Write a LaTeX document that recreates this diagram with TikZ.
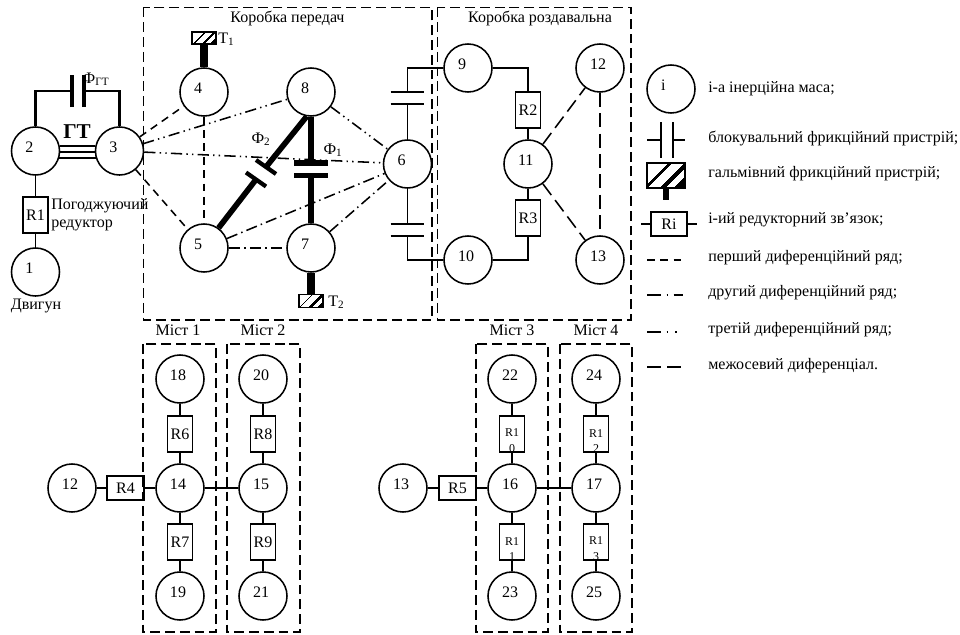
\documentclass[tikz,border=0pt]{standalone}
\usepackage{fontspec}
\setmainfont{Liberation Serif}
\usetikzlibrary{calc}

\pgfdeclarehorizontalshading{brakestripes}{100bp}{
    color(25bp)=(black); color(30bp)=(black); color(40bp)=(white);
    color(43bp)=(white); color(50bp)=(black); color(57bp)=(white);
    color(60bp)=(white); color(70bp)=(black); color(75bp)=(black)}

\tikzset{
    mass/.style={circle, draw, line width=1.1pt, minimum size=1.2cm, inner sep=0pt,
        text width=0.5cm, align=left, text height=0.19cm, text depth=0.11cm},
    gearbox/.style={rectangle, draw, fill=white, line width=1pt, minimum width=0.62cm,
        minimum height=0.9cm, inner sep=0pt},
    gearboxflat/.style={gearbox, minimum width=0.92cm, minimum height=0.6cm},
    gearboxcut/.style 2 args={gearbox, path picture={
        \node[align=center, inner sep=0pt, font=\fontsize{8.5}{11}\selectfont]
            (#1) at ([yshift=-0.17cm]path picture bounding box.center) {#2};}},
    brake/.style={rectangle, draw, line width=1.2pt, inner sep=0pt, shade, shading=brakestripes,
        shading angle=-45},
    unit/.style={draw, line width=1.2pt, dash pattern=on 7pt off 3.5pt},
    link/.style={line width=1pt},
    clutchplate/.style={line width=1pt},
    heavy/.style={line width=1.9pt},
    firstrow/.style={line width=1.1pt, dash pattern=on 5.5pt off 4pt},
    secondrow/.style={line width=1.1pt, dash pattern=on 8pt off 3pt on 1pt off 3pt},
    thirdrow/.style={line width=1.1pt, dash pattern=on 8pt off 3pt on 1pt off 3pt on 1pt off 3pt},
    axlerow/.style={line width=1.1pt, dash pattern=on 10pt off 4.5pt},
    legendtext/.style={anchor=west, inner sep=0pt},
    plain/.style={inner sep=0pt},
}

\begin{document}
\begin{tikzpicture}[x=0.025cm, y=-0.025cm, font=\fontsize{11.4}{13}\selectfont]

    \useasboundingbox (0,0) rectangle (960,635);

    % ============================================================
    % GROUP FRAMES
    % ============================================================
    \draw[unit] (143.5,7.5) rectangle (432,320);
    \draw[unit] (437.5,7.5) rectangle (631,320);
    \draw[unit] (143,344) rectangle (216,632);
    \draw[unit] (227,344) rectangle (300,632);
    \draw[unit] (476,344) rectangle (548,632);
    \draw[unit] (560,344) rectangle (632,632);

    \node[plain] (boxname) at (287.5,18) {Коробка передач};
    \node[plain] (transfername) at (540,18) {Коробка роздавальна};
    \node[plain] (axle1) at (178,330) {Міст 1};
    \node[plain] (axle2) at (263,330) {Міст 2};
    \node[plain] (axle3) at (512,330) {Міст 3};
    \node[plain] (axle4) at (596,330) {Міст 4};

    % ============================================================
    % ENGINE AND TORQUE CONVERTER
    % ============================================================
    \node[mass] (n1) at (35.5,272) {1};
    \node[mass] (n2) at (35.5,151) {2};
    \node[mass] (n3) at (119.5,151) {3};
    \node[gearbox] (r1) at (35.5,215) {R1};

    \draw[link] (n2) -- (r1);
    \draw[link] (r1) -- (n1);

    \draw[line width=1.4pt] (n2.12) -- (n3.168);
    \draw[line width=1.4pt] (n2.-2) -- (n3.-178);
    \draw[line width=1.4pt] (n2.-16) -- (n3.-164);

    \coordinate (gtleft) at (72,91);
    \coordinate (gtright) at (84,91);
    \draw[heavy] (n2.north) |- (gtleft);
    \draw[heavy] (n3.north) |- (gtright);
    \draw[line width=2.2pt] ([yshift=-11.5]gtleft) -- ([yshift=11.5]gtleft);
    \draw[line width=2.2pt] ([yshift=-11.5]gtright) -- ([yshift=11.5]gtright);

    \node[plain, font=\fontsize{15}{17}\selectfont\bfseries] (gtname) at (77,132) {ГТ};
    \node[plain] (gtclutch) at (96,79) {Ф\textsubscript{ГТ}};
    \node[plain, anchor=west, align=left] (matchname) at (51,215) {Погоджуючий\\редуктор};
    \node[plain] (enginename) at (36,306) {Двигун};

    % ============================================================
    % GEARBOX MASSES
    % ============================================================
    \node[mass] (n4) at (204,92) {4};
    \node[mass] (n5) at (204,248) {5};
    \node[mass] (n6) at (407.5,164) {6};
    \node[mass] (n7) at (311,248) {7};
    \node[mass] (n8) at (311,92) {8};

    \node[brake, minimum width=0.6cm, minimum height=0.3cm] (t1) at (204,38) {};
    \node[brake, minimum width=0.6cm, minimum height=0.33cm] (t2) at (311,301) {};
    \draw[line width=5pt] (t1) -- (n4);
    \draw[line width=5pt] (t2) -- (n7);
    \node[plain, anchor=west] (t1name) at (218,39) {Т\textsubscript{1}};
    \node[plain, anchor=west] (t2name) at (328,302) {Т\textsubscript{2}};

    % ============================================================
    % DIFFERENTIAL ROWS
    % ============================================================
    \draw[firstrow] (n3) -- (n4);
    \draw[firstrow] (n3) -- (n5);
    \draw[firstrow] (n4) -- (n5);

    \draw[secondrow] (n5) -- (n7);
    \draw[secondrow] (n5) -- (n6);
    \draw[secondrow] (n7) -- (n6);

    \draw[thirdrow] (n3) -- (n8);
    \draw[thirdrow] (n3) -- (n6);
    \draw[thirdrow] (n8) -- (n6);

    % ============================================================
    % GEARBOX CLUTCHES
    % ============================================================
    \coordinate (f1top) at (311,163);
    \coordinate (f1bot) at (311,175.5);
    \draw[line width=3.6pt] (n8) -- (f1top);
    \draw[line width=3.6pt] (f1bot) -- (n7);
    \draw[line width=3.6pt] ([xshift=-12]f1top) -- ([xshift=12]f1top);
    \draw[line width=3.6pt] ([xshift=-12]f1bot) -- ([xshift=12]f1bot);
    \node[plain] (f1name) at (333,150) {Ф\textsubscript{1}};

    \coordinate (f2top) at (266,167);
    \coordinate (f2bot) at (256,179.5);
    \draw[line width=4pt] (n8.260) -- (f2top);
    \draw[line width=4pt] (f2bot) -- (n5.54);
    \draw[line width=3pt] ($(f2top)+(-10,-7)$) -- ($(f2top)+(10,7)$);
    \draw[line width=3pt] ($(f2bot)+(-10,-7)$) -- ($(f2bot)+(10,7)$);
    \node[plain] (f2name) at (261,139) {Ф\textsubscript{2}};

    % ============================================================
    % TRANSFER CASE
    % ============================================================
    \node[mass] (n9) at (468,68) {9};
    \node[mass] (n10) at (468,260) {10};
    \node[mass] (n11) at (528,164) {11};
    \node[mass] (n12) at (600,68) {12};
    \node[mass] (n13) at (600,260) {13};
    \node[gearbox] (r2) at (528,110) {R2};
    \node[gearbox] (r3) at (528,218) {R3};

    \coordinate (c1top) at (407.5,92);
    \coordinate (c1bot) at (407.5,104);
    \coordinate (c2top) at (407.5,224);
    \coordinate (c2bot) at (407.5,236);
    \draw[link] (n9) -| (c1top);
    \draw[link] (c1bot) -- (n6);
    \draw[link] (n6) -- (c2top);
    \draw[link] (n10) -| (c2bot);
    \draw[clutchplate] ([xshift=-12]c1top) -- ([xshift=12]c1top);
    \draw[clutchplate] ([xshift=-12]c1bot) -- ([xshift=12]c1bot);
    \draw[clutchplate] ([xshift=-12]c2top) -- ([xshift=12]c2top);
    \draw[clutchplate] ([xshift=-12]c2bot) -- ([xshift=12]c2bot);

    \draw[link] (n9) -| (r2);
    \draw[link] (r2) -- (n11);
    \draw[link] (n11) -- (r3);
    \draw[link] (r3) |- (n10);

    \draw[axlerow] (n11) -- (n12);
    \draw[axlerow] (n11) -- (n13);
    \draw[axlerow] (n12) -- (n13);

    % ============================================================
    % FRONT AXLES
    % ============================================================
    \node[mass] (n12a) at (72,488) {12};
    \node[mass] (n14) at (180,488) {14};
    \node[mass] (n15) at (263,488) {15};
    \node[mass] (n18) at (180,379) {18};
    \node[mass] (n19) at (180,596) {19};
    \node[mass] (n20) at (263,379) {20};
    \node[mass] (n21) at (263,596) {21};
    \node[gearboxflat, fill=none] (r4) at (125.5,488) {R4};
    \node[gearbox] (r6) at (180,434) {R6};
    \node[gearbox] (r7) at (180,542) {R7};
    \node[gearbox] (r8) at (263,434) {R8};
    \node[gearbox] (r9) at (263,542) {R9};

    \foreach \from/\to in {n12a/r4, r4/n14, n14/n15, n18/r6, r6/n14, n14/r7, r7/n19,
                           n20/r8, r8/n15, n15/r9, r9/n21}
        \draw[link] (\from) -- (\to);

    % ============================================================
    % REAR AXLES
    % ============================================================
    \node[mass] (n13a) at (403,488) {13};
    \node[mass] (n16) at (512,488) {16};
    \node[mass] (n17) at (596,488) {17};
    \node[mass] (n22) at (512,379) {22};
    \node[mass] (n23) at (512,596) {23};
    \node[mass] (n24) at (596,379) {24};
    \node[mass] (n25) at (596,596) {25};
    \node[gearboxflat, fill=none] (r5) at (457.5,488) {R5};
    \node[gearboxcut={r10text}{R1\\0}] (r10) at (512,434) {};
    \node[gearboxcut={r11text}{R1\\1}] (r11) at (512,542) {};
    \node[gearboxcut={r12text}{R1\\2}] (r12) at (596,434) {};
    \node[gearboxcut={r13text}{R1\\3}] (r13) at (596,542) {};

    \foreach \from/\to in {n13a/r5, r5/n16, n16/n17, n22/r10, r10/n16, n16/r11, r11/n23,
                           n24/r12, r12/n17, n17/r13, r13/n25}
        \draw[link] (\from) -- (\to);

    % ============================================================
    % LEGEND
    % ============================================================
    \node[mass] (legmass) at (671,89) {i};
    \coordinate (legplateL) at (661,140);
    \coordinate (legplateR) at (673,140);
    \coordinate (legclutchL) at (647,140);
    \coordinate (legclutchR) at (685,140);
    \draw[link] (legclutchL) -- (legplateL);
    \draw[link] (legplateR) -- (legclutchR);
    \draw[clutchplate] ([yshift=-12.5]legplateL) -- ([yshift=12.5]legplateL);
    \draw[clutchplate] ([yshift=-12.5]legplateR) -- ([yshift=12.5]legplateR);

    \node[brake, minimum width=0.95cm, minimum height=0.62cm] (legbrake) at (666,175.5) {};
    \coordinate (legstem) at (666,200);
    \draw[line width=4pt] (legbrake) -- (legstem);

    \node[gearboxflat, minimum width=0.9cm] (legratio) at (669,224) {Ri};
    \coordinate (legratioL) at (641,224);
    \coordinate (legratioR) at (697,224);
    \draw[link] (legratioL) -- (legratio);
    \draw[link] (legratio) -- (legratioR);

    \coordinate (leg1L) at (647,260);
    \coordinate (leg1R) at (683,260);
    \coordinate (leg2L) at (647,295);
    \coordinate (leg2R) at (683,295);
    \coordinate (leg3L) at (647,332);
    \coordinate (leg3R) at (683,332);
    \coordinate (leg4L) at (647,367);
    \coordinate (leg4R) at (686,367);
    \draw[firstrow] (leg1L) -- (leg1R);
    \draw[line width=1pt, dash pattern=on 10pt off 4pt on 1pt off 4pt on 7pt off 9pt] (leg2L) -- (leg2R);
    \draw[line width=1pt, dash pattern=on 10pt off 4pt on 1pt off 5pt on 1pt off 9pt] (leg3L) -- (leg3R);
    \draw[axlerow] (leg4L) -- (leg4R);

    \node[legendtext] (text1) at (708,89) {і-а інерційна маса;};
    \node[legendtext] (text2) at (708,138) {блокувальний фрикційний пристрій;};
    \node[legendtext] (text3) at (708,174) {гальмівний фрикційний пристрій;};
    \node[legendtext] (text4) at (708,220) {і-ий редукторний зв'язок;};
    \node[legendtext] (text5) at (708,258) {перший диференційний ряд;};
    \node[legendtext] (text6) at (708,293) {другий диференційний ряд;};
    \node[legendtext] (text7) at (708,330) {третій диференційний ряд;};
    \node[legendtext] (text8) at (708,366) {межосевий диференціал.};

\end{tikzpicture}
\end{document}
